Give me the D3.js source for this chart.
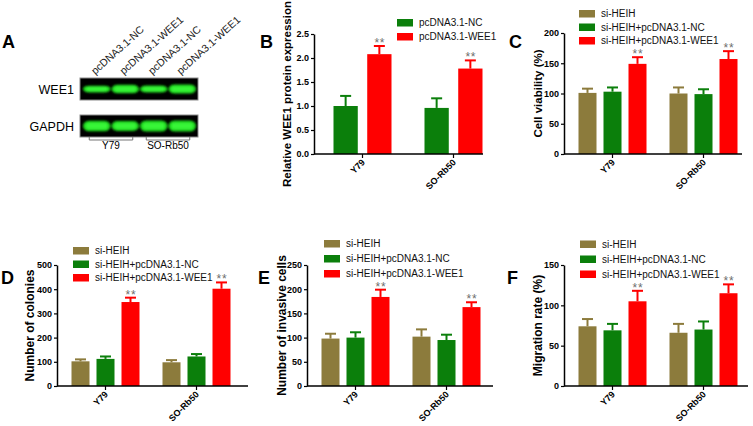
<!DOCTYPE html>
<html><head><meta charset="utf-8">
<script src="https://cdn.jsdelivr.net/npm/d3@7"></script>
<style>
body{margin:0;background:#fff}
text{font-family:"Liberation Sans", Arial, Helvetica, sans-serif}
</style>
</head><body>
<svg id="chart" width="753" height="426"></svg>
<script>
// ---------- data ----------
const categories = ["Y79", "SO-Rb50"];
const seriesB = ["pcDNA3.1-NC", "pcDNA3.1-WEE1"];
const seriesRescue = ["si-HEIH", "si-HEIH+pcDNA3.1-NC", "si-HEIH+pcDNA3.1-WEE1"];
const sigB = ["", "**"];
const sigRescue = ["", "", "**"];

// values[series][category]
const wee1Expr = [[1.00, 0.96], [2.08, 1.78]];
const wee1ExprErr = [[0.21, 0.20], [0.17, 0.17]];
const viability = [[101, 100], [103, 99], [149, 157]];
const viabilityErr = [[7, 10], [7, 8], [11, 13]];
const colonies = [[102, 98], [112, 122], [347, 402]];
const coloniesErr = [[8, 9], [10, 10], [18, 26]];
const invasion = [[98, 102], [100, 95], [184, 163]];
const invasionErr = [[10, 15], [11, 11], [15, 10]];
const migration = [[74, 66], [69, 70], [105, 115]];
const migrationErr = [[9, 11], [8, 10], [13, 11]];

const ticksB = [0, 0.5, 1.0, 1.5, 2.0, 2.5];
const ticksC = [0, 50, 100, 150, 200];
const ticksD = [0, 100, 200, 300, 400, 500];
const ticksE = [0, 50, 100, 150, 200, 250];
const ticksF = [0, 50, 100, 150];

// western blot (panel A)
const blotLanes = ["pcDNA3.1-NC", "pcDNA3.1-WEE1", "pcDNA3.1-NC", "pcDNA3.1-WEE1"];
const laneCellLine = ["Y79", "Y79", "SO-Rb50", "SO-Rb50"];
const blotRows = ["WEE1", "GAPDH"];
const wee1Signal = [0.75, 0.95, 0.8, 1.0];
const gapdhSignal = [1.0, 0.95, 1.05, 1.05];

// ---------- drawing ----------
const svg = d3.select("#chart");
svg.append("rect").attr("width", 753).attr("height", 426).attr("fill", "#fff");

const C_BROWN = "#8c7b3c", C_GREEN = "#0b7f0b", C_RED = "#ff0000";

const defs = svg.append("defs");
defs.append("filter").attr("id", "blur").attr("x", "-20%").attr("y", "-50%").attr("width", "140%").attr("height", "200%")
  .append("feGaussianBlur").attr("stdDeviation", 1.0);

// Panel A: blot
(function () {
  const g = svg.append("g");
  g.append("text").attr("x", 2).attr("y", 48).attr("font-size", 18).attr("font-weight", "bold").text("A");
  const lane = d3.scaleBand().domain(d3.range(blotLanes.length)).range([82, 196]).padding(0);
  const rowTop = d3.scalePoint().domain(blotRows).range([78, 115]);
  const blotH = 22;
  const signals = [wee1Signal, gapdhSignal];
  blotRows.forEach((r, ri) => {
    const y0 = rowTop(r);
    g.append("rect").attr("x", 80).attr("y", y0).attr("width", 118).attr("height", blotH)
      .attr("fill", "#000").attr("stroke", "#8a8a8a").attr("stroke-width", 1);
    g.append("text").attr("x", 74).attr("y", y0 + 16).attr("text-anchor", "end")
      .attr("font-size", 12.5).text(r);
    const cy = y0 + blotH / 2;
    const bandG = g.append("g").attr("filter", "url(#blur)");
    signals[ri].forEach((s, i) => {
      const h = (ri === 0 ? 9 : 10.5) * s;
      bandG.append("rect").attr("x", lane(i) + 1).attr("width", lane.bandwidth() - 1)
        .attr("y", cy - h / 2).attr("height", h).attr("rx", 6).attr("ry", h / 2)
        .attr("fill", "#1ed81e");
      bandG.append("rect").attr("x", lane(i) + 4).attr("width", lane.bandwidth() - 7)
        .attr("y", cy - h * 0.28).attr("height", h * 0.56).attr("rx", 2)
        .attr("fill", "#40ff40").attr("opacity", 0.75);
    });
  });
  blotLanes.forEach((l, i) => {
    const cx = lane(i) + lane.bandwidth() / 2 - 1;
    g.append("text").attr("transform", `translate(${cx},75) rotate(-42)`)
      .attr("font-size", 10.5).attr("fill", "#222").text(l);
  });
  categories.forEach(cat => {
    const idx = laneCellLine.map((c, i) => c === cat ? i : -1).filter(i => i >= 0);
    const xa = lane(idx[0]) + lane.bandwidth() / 2 - 7;
    const xb = lane(idx[idx.length - 1]) + lane.bandwidth() / 2 + 8;
    g.append("path").attr("d", `M${xa},137V140H${xb}V137`).attr("fill", "none")
      .attr("stroke", "#777").attr("stroke-width", 1);
    g.append("text").attr("x", (xa + xb) / 2).attr("y", 149).attr("text-anchor", "middle")
      .attr("font-size", 10).text(cat);
  });
})();

const panels = [
  { letter: "B", lx: 260, ly: 48, x0: 314, yTop: 34, yBot: 154, len: 169, max: 2.5, ticks: ticksB, fmt: ".1f",
    series: seriesB, values: wee1Expr, err: wee1ExprErr, sig: sigB, colors: [C_GREEN, C_RED], groupW: 58,
    ylabel: "Relative WEE1 protein expression", ylx: 287, yfs: 11.5, leg: { x: 397, y: 19, dy: 14 } },
  { letter: "C", lx: 509, ly: 48, x0: 564, yTop: 33, yBot: 154, len: 178, max: 200, ticks: ticksC, fmt: "d",
    series: seriesRescue, values: viability, err: viabilityErr, sig: sigRescue, colors: [C_BROWN, C_GREEN, C_RED], groupW: 68,
    ylabel: "Cell viability (%)", ylx: 538, yfs: 11.5, leg: { x: 579, y: 10, dy: 13.5 } },
  { letter: "D", lx: 1, ly: 284, x0: 57, yTop: 265, yBot: 386, len: 191, max: 500, ticks: ticksD, fmt: "d",
    series: seriesRescue, values: colonies, err: coloniesErr, sig: sigRescue, colors: [C_BROWN, C_GREEN, C_RED], groupW: 68,
    ylabel: "Number of colonies", ylx: 30, yfs: 12, leg: { x: 73, y: 247, dy: 13.5 } },
  { letter: "E", lx: 258, ly: 284, x0: 307, yTop: 265, yBot: 386, len: 186, max: 250, ticks: ticksE, fmt: "d",
    series: seriesRescue, values: invasion, err: invasionErr, sig: sigRescue, colors: [C_BROWN, C_GREEN, C_RED], groupW: 68,
    ylabel: "Number of invasive cells", ylx: 282, yfs: 12, leg: { x: 324, y: 240, dy: 15 } },
  { letter: "F", lx: 507, ly: 284, x0: 564, yTop: 265, yBot: 386, len: 184, max: 150, ticks: ticksF, fmt: "d",
    series: seriesRescue, values: migration, err: migrationErr, sig: sigRescue, colors: [C_BROWN, C_GREEN, C_RED], groupW: 68,
    ylabel: "Migration rate (%)", ylx: 538, yfs: 12, leg: { x: 580, y: 240.5, dy: 15 } }
];

panels.forEach(p => {
  const g = svg.append("g");
  g.append("text").attr("x", p.lx).attr("y", p.ly).attr("font-size", 18).attr("font-weight", "bold").text(p.letter);

  const y = d3.scaleLinear().domain([0, p.max]).range([p.yBot, p.yTop]);
  const x = d3.scaleBand().domain(categories).range([p.x0 + 3, p.x0 + 3 + 182]).padding(0);
  const xs = d3.scaleBand().domain(p.series).range([0, p.groupW]).paddingInner(0.28).paddingOuter(0);

  // bars
  p.series.forEach((s, si) => {
    categories.forEach((c, ci) => {
      const v = p.values[si][ci], e = p.err[si][ci];
      const bx = x(c) + x.bandwidth() / 2 - p.groupW / 2 + xs(s);
      const cx = bx + xs.bandwidth() / 2;
      g.append("line").attr("x1", cx).attr("x2", cx).attr("y1", y(v)).attr("y2", y(v + e))
        .attr("stroke", p.colors[si]).attr("stroke-width", 2);
      g.append("line").attr("x1", cx - 5.5).attr("x2", cx + 5.5).attr("y1", y(v + e)).attr("y2", y(v + e))
        .attr("stroke", p.colors[si]).attr("stroke-width", 2);
      g.append("rect").attr("x", bx).attr("y", y(v)).attr("width", xs.bandwidth()).attr("height", p.yBot - y(v))
        .attr("fill", p.colors[si]);
      if (p.sig[si]) {
        g.append("text").attr("x", cx + 0.5).attr("y", y(v + e) + 1).attr("text-anchor", "middle")
          .attr("font-size", 12).attr("letter-spacing", 0.8).attr("fill", "#6e6e6e").text(p.sig[si]);
      }
    });
  });

  // y axis
  const ya = g.append("g").attr("transform", `translate(${p.x0},0)`)
    .call(d3.axisLeft(y).tickValues(p.ticks).tickSize(3).tickSizeOuter(0).tickPadding(2).tickFormat(d3.format(p.fmt)));
  ya.select(".domain").attr("stroke-width", 1.5).attr("stroke", "#000");
  ya.selectAll(".tick line").attr("stroke-width", 1.2);
  ya.selectAll("text").attr("font-size", 9).attr("font-weight", "bold").attr("font-family", "\"Liberation Sans\", Arial, sans-serif");

  // x axis
  const xa = g.append("g").attr("transform", `translate(0,${p.yBot})`)
    .call(d3.axisBottom(x).tickSize(4).tickSizeOuter(0).tickFormat(""));
  xa.select(".domain").remove();
  xa.selectAll(".tick line").attr("stroke-width", 1.2);
  g.append("line").attr("x1", p.x0).attr("x2", p.x0 + p.len).attr("y1", p.yBot).attr("y2", p.yBot)
    .attr("stroke", "#000").attr("stroke-width", 1.5);
  categories.forEach(c => {
    const cx = x(c) + x.bandwidth() / 2;
    g.append("text").attr("transform", `translate(${cx + 3},${p.yBot + 9}) rotate(-45)`)
      .attr("text-anchor", "end").attr("font-size", 9).attr("font-weight", "bold").text(c);
  });

  // y label
  g.append("text").attr("transform", `translate(${p.ylx},${(p.yTop + p.yBot) / 2}) rotate(-90)`)
    .attr("text-anchor", "middle").attr("dominant-baseline", "central")
    .attr("font-size", p.yfs).attr("font-weight", "bold").text(p.ylabel);

  // legend
  p.series.forEach((s, si) => {
    const ly = p.leg.y + si * p.leg.dy;
    g.append("rect").attr("x", p.leg.x).attr("y", ly).attr("width", 16).attr("height", 7.5).attr("fill", p.colors[si]);
    g.append("text").attr("x", p.leg.x + 22).attr("y", ly + 3.75).attr("dominant-baseline", "central")
      .attr("font-size", 10).attr("fill", "#111").text(s);
  });
});
</script>
</body></html>
